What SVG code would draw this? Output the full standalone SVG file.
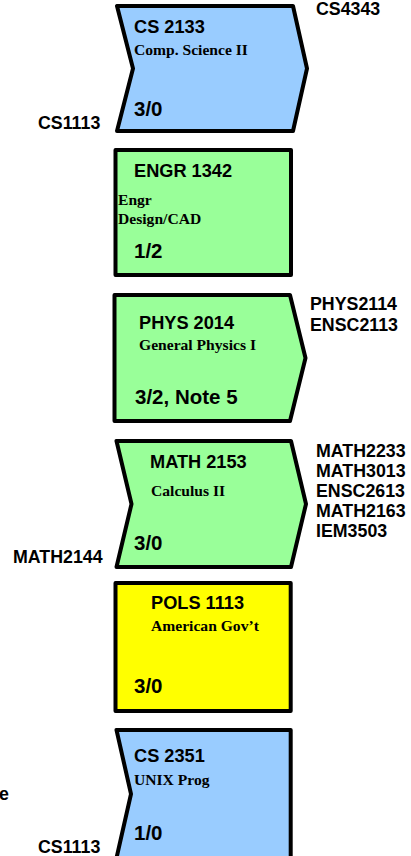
<svg xmlns="http://www.w3.org/2000/svg" width="411" height="856" viewBox="0 0 411 856">
<style>
.box{stroke:#000;stroke-width:4;stroke-linejoin:round}
.blue{fill:#99CCFF}
.green{fill:#99FF99}
.yellow{fill:#FFFF00}
.code{font-family:"Liberation Sans",Arial,sans-serif;font-weight:bold;font-size:18.2px;fill:#000}
.cred{font-family:"Liberation Sans",Arial,sans-serif;font-weight:bold;font-size:20.5px;fill:#000}
.name{font-family:"Liberation Serif","Times New Roman",serif;font-weight:bold;font-size:15.6px;fill:#000}
.lbl{font-family:"Liberation Sans",Arial,sans-serif;font-weight:bold;font-size:17.8px;fill:#000}
</style>
<rect width="411" height="856" fill="#fff"/>
<g id="cs2133">
<polygon class="box blue" points="117,6 293,6 307,68.5 293,131 117,131 133,68.5"/>
<text class="code" x="134" y="33">CS 2133</text>
<text class="name" x="134" y="55">Comp. Science II</text>
<text class="cred" x="134" y="116">3/0</text>
</g>
<g id="engr1342">
<rect class="box green" x="115.5" y="150" width="175.5" height="125"/>
<text class="code" x="134" y="177">ENGR 1342</text>
<text class="name" x="118" y="205">Engr</text>
<text class="name" x="118" y="224">Design/CAD</text>
<text class="cred" x="134" y="258">1/2</text>
</g>
<g id="phys2014">
<polygon class="box green" points="114.5,295 290,295 305.5,358 290,421 114.5,421"/>
<text class="code" x="139" y="329">PHYS 2014</text>
<text class="name" x="139" y="350">General Physics I</text>
<text class="cred" x="135" y="404">3/2, Note 5</text>
</g>
<g id="math2153">
<polygon class="box green" points="116.5,441 291,441 306,504 291,567 116.5,567 131.5,504"/>
<text class="code" x="150" y="468">MATH 2153</text>
<text class="name" x="151" y="496">Calculus II</text>
<text class="cred" x="134" y="550">3/0</text>
</g>
<g id="pols1113">
<rect class="box yellow" x="115.5" y="583" width="175.2" height="128"/>
<text class="code" x="151" y="609">POLS 1113</text>
<text class="name" x="151" y="631">American Gov’t</text>
<text class="cred" x="134" y="693">3/0</text>
</g>
<g id="cs2351">
<polygon class="box blue" points="116.5,730 290.7,730 290.7,858 116.5,858 131,794"/>
<text class="code" x="134" y="762">CS 2351</text>
<text class="name" x="134" y="785">UNIX Prog</text>
<text class="cred" x="134" y="840">1/0</text>
</g>
<g id="connectors">
<text class="lbl" x="316" y="15">CS4343</text>
<text class="lbl" x="38" y="129">CS1113</text>
<text class="lbl" x="310" y="310">PHYS2114</text>
<text class="lbl" x="310" y="331">ENSC2113</text>
<text class="lbl" x="316" y="457">MATH2233</text>
<text class="lbl" x="316" y="477">MATH3013</text>
<text class="lbl" x="316" y="497">ENSC2613</text>
<text class="lbl" x="316" y="517">MATH2163</text>
<text class="lbl" x="316" y="537">IEM3503</text>
<text class="lbl" x="13" y="563">MATH2144</text>
<text class="lbl" x="9" y="800" text-anchor="end">e</text>
<text class="lbl" x="38" y="853">CS1113</text>
</g>
</svg>
